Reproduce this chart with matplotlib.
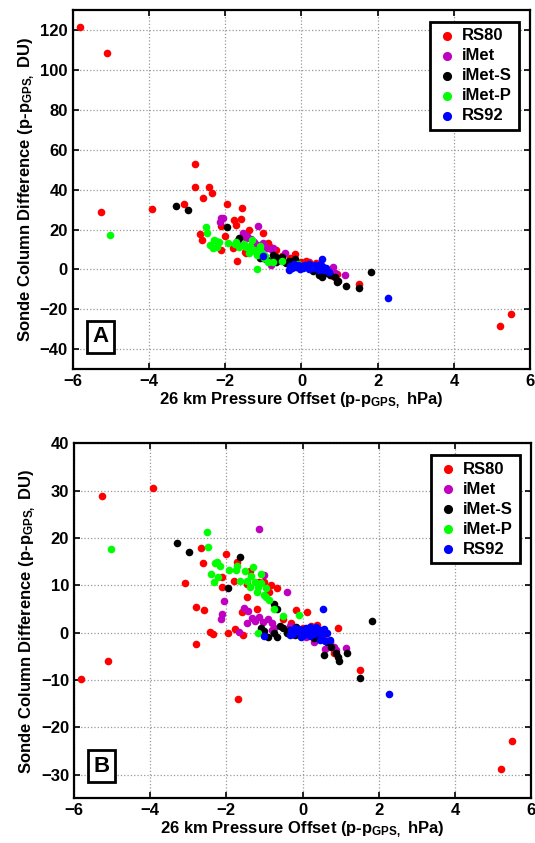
import matplotlib
matplotlib.use("Agg")
import matplotlib.pyplot as plt
import numpy as np

plt.rcParams['font.family'] = ['Liberation Sans', 'DejaVu Sans']
plt.rcParams['font.weight'] = 'bold'
plt.rcParams['mathtext.fontset'] = 'custom'
plt.rcParams['mathtext.rm'] = 'Liberation Sans:bold'
plt.rcParams['mathtext.default'] = 'rm'

# each series: x (26 km pressure offset), yA (panel A), yB (panel B)
rs80_x = [-5.8, -5.1, -5.25, -3.92, 5.2, 5.5, 1.5, -1.7, -3.08, -2.79, -2.79, -2.42, -2.34,
          -2.58, -1.95, -1.55, -1.76, -1.58, -1.71, -2.1, -1.37, -1.0, -2.66, -2.0, -2.6,
          -2.1, -1.79, -0.87, -1.45, -0.84, -0.66, -0.16, 0.13, 0.21, 0.39, 0.92, -1.13,
          -1.47, -0.5, -0.3, 0.6, 0.75, -1.2, 0.0, 0.37, 0.82]
rs80_yA = [121.5, 108.5, 29, 30.5, -28.5, -22.5, -7.5, 4.5, 33, 53, 41.5, 41.5, 38.5,
           36, 33, 31, 25, 25.5, 22.5, 22, 20, 18.5, 18, 17, 15,
           10, 11, 13.5, 8.5, 12, 10, 8, 4.5, 3.5, 3, -2.5, 12,
           9, 7, 6, 0.5, -1.5, 10.5, 3.5, 1.5, -3.5]
rs80_yB = [-9.7, -5.9, 28.8, 30.5, -28.7, -22.9, -7.8, -14, 10.6, 5.5, -2.3, 0.2, -0.2,
           4.9, 0.0, -0.4, 0.8, 4.4, 15.0, 11.7, 13.1, 10.8, 17.8, 16.7, 14.8,
           9.7, 11.0, 8.7, 10.2, 10.0, 9.5, 4.7, 4.4, 1.5, 0.5, 1.0, 10.8,
           7.6, 3.0, 2.0, -1.5, -3.0, 5.0, 1.0, 1.7, -4.3]

imet_x = [-2.1, -2.05, -2.13, -1.53, -1.42, -1.32, -1.13, -1.0, -1.25, -1.45, -1.15, -1.05,
          -0.9, -0.79, -1.66, -0.76, -0.42, -0.79, -0.32, 0.1, 0.42, 0.6, 0.71, 0.82, 0.87,
          1.13, 0.3]
imet_yA = [26, 26, 24, 18.5, 17, 15.5, 22, 13.5, 14, 16, 12.5, 12,
           11, 10.5, 15, 11, 8.5, 2, 2.5, 2, 0.5, 0, -1, 1, -2,
           -3, 1.5]
imet_yB = [4.0, 6.6, 3.0, 5.3, 4.5, 3.2, 22.0, 12.1, 2.5, 2.0, 3.4, 2.2,
           2.8, 2.0, 0.2, 1.0, 8.7, 0.5, 1.5, -1.0, -1.0, -3.4, -2.0, -3.0, -3.6,
           -3.2, -2.0]

imets_x = [-3.29, -2.97, -1.95, -1.63, -0.76, -0.66, -0.5, -0.32, -0.18, -0.66, -0.76, -1.0,
           -1.1, -0.9, -0.4, -0.6, 0.47, 0.55, 0.87, 0.92, 0.95, 1.16, 1.5, 1.82, 0.63,
           0.75, 0.3, 0.0, -0.2]
imets_yA = [32, 30, 21.5, 16, 7.5, 6.5, 6.5, 4, 5.5, 3.5, 4, 6,
            6, 5, 3, 5, -3, -4, -4, -6.5, -6, -8.5, -9.5, -1.5, -2,
            -3, -1, 1.5, 2]
imets_yB = [18.9, 17.0, 9.5, 16.1, 6.1, 5.0, 1.0, 0.5, 1.3, -1.0, 0.0, 0.3,
            1.0, -1.0, 0.0, 1.5, -0.8, -4.7, -4.3, -5.1, -5.9, -4.2, -9.5, 2.5, -2.0,
            -3.0, -1.2, 0.5, -0.5]

imetp_x = [-5.03, -2.5, -2.47, -2.29, -2.16, -2.39, -2.32, -2.21, -2.25, -1.92, -1.71, -1.63,
           -1.74, -1.45, -1.29, -1.24, -1.16, -0.97, -0.89, -0.74, -1.16, -1.37, -1.5, -1.08,
           -1.2, -1.0, -0.5, -0.1, -1.35, -1.1, -0.95]
imetp_yA = [17.5, 21.5, 18.5, 15, 14, 12.5, 11, 11.5, 14.5, 13.5, 14, 11.5,
            13, 11.5, 15, 10, 7.5, 6, 3.5, 3.5, 0, 8.5, 13, 12,
            9, 8, 4, 2.5, 12, 10, 7]
imetp_yB = [17.6, 21.3, 18.2, 14.8, 14.0, 12.3, 10.8, 11.7, 15.0, 13.2, 14.2, 11.0,
            13.2, 11.0, 13.8, 10.8, 9.7, 9.5, 7.0, 5.0, 0.0, 9.7, 13.0, 12.3,
            8.5, 8.0, 3.5, 3.8, 12.0, 10.5, 7.5]

rs92_x = [-1.0, -0.34, 0.53, 0.71, 2.26, -0.3, -0.2, -0.15, -0.1, 0.0, 0.05, 0.1, 0.15,
          0.2, 0.25, 0.3, 0.35, 0.4, 0.45, 0.5, 0.55, 0.6, 0.65, -0.05, 0.2, 0.45, -0.25]
rs92_yA = [7, -0.5, 5.5, -1.5, -14.5, 1.5, 2.5, 1, 2, 1.5, 0.5, 2, 1,
           0, 1.5, 0.5, 2, 1, -0.5, 0.5, 1.5, -0.5, 0.5, 0, 2.5, 2, 0.5]
rs92_yB = [-0.8, -0.5, 5.1, -1.5, -13.0, 0.5, 1.0, 0.3, 0.8, 0.0, -0.5, 1.0, 0.2,
           -0.8, 0.5, -0.3, 1.2, 0.0, -1.5, -0.5, 0.8, -1.8, 0.0, -1.0, 1.3, 0.5, -0.3]

names = ['RS80', 'iMet', 'iMet-S', 'iMet-P', 'RS92']
colors = ['#ff0000', '#c000c0', '#000000', '#00ff00', '#0000ff']
xs = [rs80_x, imet_x, imets_x, imetp_x, rs92_x]
ysA = [rs80_yA, imet_yA, imets_yA, imetp_yA, rs92_yA]
ysB = [rs80_yB, imet_yB, imets_yB, imetp_yB, rs92_yB]

fig = plt.figure(figsize=(5.35, 8.43), dpi=100)
axA = fig.add_axes([0.136, 0.562, 0.855, 0.426])
axB = fig.add_axes([0.138, 0.053, 0.855, 0.421])

xlabel = r'26 km Pressure Offset (p-p$_{\mathregular{GPS,}}$ hPa)'
ylabel = r'Sonde Column Difference (p-p$_{\mathregular{GPS,}}$ DU)'

def style(ax, ylim, yticks, tag):
    ax.set_xlim(-6, 6)
    ax.set_ylim(*ylim)
    ax.set_xticks(np.arange(-6, 7, 2))
    ax.set_yticks(yticks)
    ax.grid(True, linestyle=':', color='#999999', linewidth=0.9)
    ax.tick_params(direction='in', top=True, right=True, labelsize=12, width=1.2, length=4)
    for s in ax.spines.values():
        s.set_linewidth(1.6)
    ax.set_xlabel(xlabel, fontsize=12, fontweight='bold', labelpad=1)
    ax.set_ylabel(ylabel, fontsize=12, fontweight='bold', labelpad=2)
    ax.text(0.06, 0.09, tag, transform=ax.transAxes, fontsize=16, fontweight='bold',
            ha='center', va='center',
            bbox=dict(boxstyle='square,pad=0.25', fc='white', ec='black', lw=2))
    leg = ax.legend(loc='upper right', fontsize=12, handletextpad=0.3, borderpad=0.4,
                    labelspacing=0.3, handlelength=1.2, fancybox=False, framealpha=1,
                    borderaxespad=0.7, markerscale=1.2)
    leg.get_frame().set_edgecolor('black')
    leg.get_frame().set_linewidth(2)

for x, y, c, n in zip(xs, ysA, colors, names):
    axA.scatter(x, y, s=30, color=c, label=n, zorder=3, linewidths=0)
for x, y, c, n in zip(xs, ysB, colors, names):
    axB.scatter(x, y, s=30, color=c, label=n, zorder=3, linewidths=0)

style(axA, (-50, 130), np.arange(-40, 121, 20), 'A')
style(axB, (-35, 40), np.arange(-30, 41, 10), 'B')

fig.savefig('out.png', dpi=100)
